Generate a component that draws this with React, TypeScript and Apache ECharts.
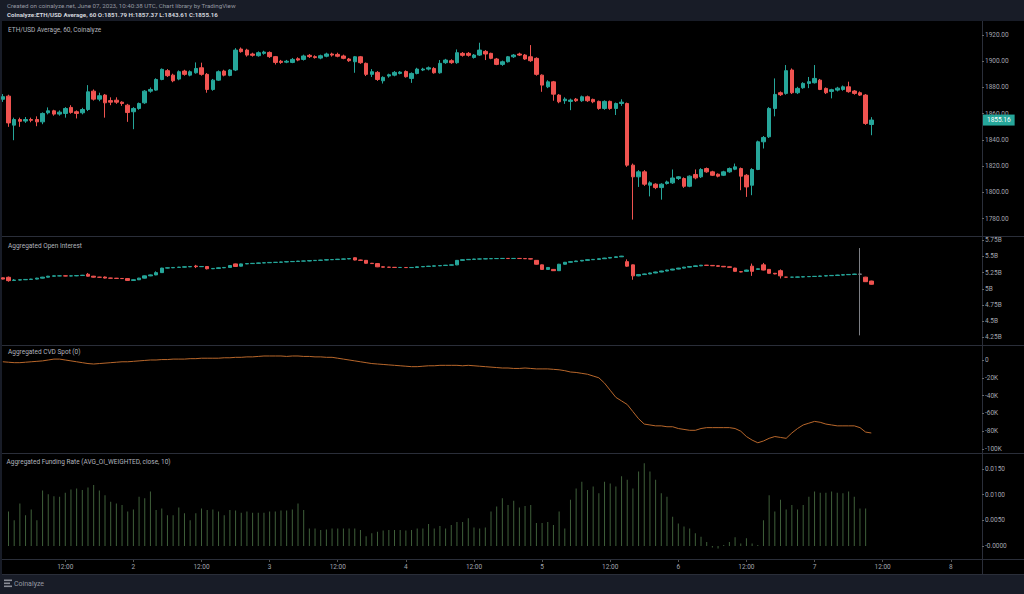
import React, { useEffect, useRef } from "react";
import * as echarts from "echarts";

// ---- time slots: hourly, first slot = June 1 01:00 UTC ----
const firstHour = 1;
const slotCount = 173;

// ---- ETH/USD hourly candles [open, close, low, high] ----
const ethCandles: number[][] = [
  [1871, 1873, 1869, 1875], [1873.4, 1853, 1850, 1874.5], [1851.3, 1855.6, 1839.8, 1857], [1855.6, 1854.2, 1850, 1857],
  [1854.4, 1855.6, 1853, 1857.5], [1855.6, 1855, 1853.5, 1857], [1855.6, 1853.8, 1850.5, 1858], [1853.8, 1860.2, 1852, 1861],
  [1860.7, 1862.2, 1859.5, 1864.8], [1862.2, 1859.7, 1858.5, 1863], [1859.7, 1861.2, 1858.5, 1862.5], [1860.2, 1864, 1857, 1865],
  [1864.8, 1861, 1860, 1866.5], [1861.5, 1860.2, 1856.4, 1862.5], [1860.7, 1863.2, 1859.5, 1864.5], [1863.2, 1876.7, 1862, 1881.8],
  [1877.2, 1871.1, 1870, 1878.5], [1871.1, 1873.7, 1869.5, 1876], [1874.2, 1868.3, 1857, 1875], [1870, 1868.8, 1866.5, 1872.5],
  [1870.3, 1868.8, 1867.5, 1872.5], [1868.8, 1867.8, 1866, 1869.5], [1866.5, 1860.9, 1853.8, 1867.5], [1861.5, 1864, 1848.2, 1865],
  [1864, 1867.8, 1863, 1868.5], [1868.3, 1877.2, 1867.5, 1878], [1877.2, 1878.5, 1876, 1880], [1878, 1886.1, 1877.5, 1887],
  [1886.1, 1893.8, 1885.5, 1894.5], [1892.8, 1889, 1888, 1894], [1889.4, 1885.1, 1884, 1890.5], [1886.4, 1892, 1885.5, 1893],
  [1892.5, 1890, 1889, 1893.5], [1889.4, 1892, 1888.5, 1893], [1891.2, 1894.5, 1890.5, 1899.1], [1895, 1890, 1889, 1898.9],
  [1890, 1878.5, 1876, 1891], [1878.5, 1885.6, 1877.5, 1886.5], [1885.6, 1892, 1885, 1893], [1892.5, 1889.4, 1888.5, 1893.5],
  [1889.2, 1893.3, 1888.5, 1894], [1893.3, 1908.5, 1892.5, 1910], [1909.3, 1907.3, 1906.5, 1910.5], [1908.5, 1904.7, 1903.5, 1909.5],
  [1905.5, 1904.5, 1903.5, 1906.5], [1904.2, 1906.5, 1903.5, 1907.5], [1906, 1907, 1905, 1908], [1906.7, 1903.5, 1902.5, 1907.5],
  [1903.5, 1899.1, 1897.5, 1904], [1900, 1899.1, 1898, 1901], [1899.3, 1900, 1898.5, 1901], [1899.1, 1901.4, 1898.5, 1902.5],
  [1901.9, 1900.9, 1900, 1903], [1901.4, 1904, 1900.5, 1905], [1904.5, 1903.5, 1902.5, 1905.5], [1903.5, 1902.8, 1902, 1904.5],
  [1902.4, 1904.2, 1901.5, 1905], [1903.8, 1905.5, 1903, 1906.5], [1905.5, 1904.7, 1903.5, 1906.5], [1905.2, 1903.8, 1903, 1906.5],
  [1904, 1902.2, 1901.5, 1905], [1901.7, 1900.4, 1899.5, 1902.5], [1899.6, 1903.4, 1891.2, 1904], [1903.4, 1898.9, 1898, 1904],
  [1898.4, 1890, 1888.7, 1899], [1890, 1892, 1888, 1894], [1891.5, 1886.1, 1885, 1892.5], [1885.1, 1887.7, 1883, 1888.5],
  [1888.7, 1889.7, 1887.5, 1890.5], [1889.4, 1891.5, 1888.5, 1892.5], [1890.7, 1891.7, 1890, 1892.5], [1892.2, 1888.2, 1887.5, 1893],
  [1886.9, 1890.7, 1883.5, 1891.5], [1890.7, 1894, 1890, 1895], [1893.3, 1894, 1892.5, 1895], [1894, 1895, 1893, 1896],
  [1894.5, 1891.2, 1890.5, 1895.5], [1891.2, 1898.4, 1890.5, 1900.9], [1898.9, 1900.9, 1898, 1901.8], [1900.4, 1898.9, 1898, 1901.5],
  [1898.9, 1906.5, 1898, 1909], [1906, 1904.5, 1903.5, 1907], [1906, 1904.5, 1903.5, 1907], [1902.9, 1904.7, 1902, 1905.5],
  [1904.7, 1908.5, 1904, 1914.1], [1907.5, 1905.5, 1900.9, 1908.5], [1906, 1902.2, 1901.5, 1906.5], [1901.7, 1897.6, 1897, 1902.5],
  [1897.6, 1899.6, 1896.5, 1900.5], [1899.6, 1903.4, 1899, 1904], [1903.4, 1904.7, 1902.5, 1905.5], [1905.5, 1904.7, 1904, 1906.5],
  [1904.7, 1901.7, 1901, 1905.5], [1903.4, 1900.4, 1899.5, 1912.3], [1902.2, 1890, 1889, 1903], [1889.4, 1881.8, 1876.7, 1890],
  [1880.5, 1884.3, 1879.5, 1885.5], [1884.3, 1874.9, 1869.9, 1885], [1874.2, 1869.1, 1868, 1875], [1869.9, 1871.1, 1867.5, 1872.5],
  [1869.4, 1870.4, 1862.7, 1871.5], [1871.1, 1869.9, 1869, 1872], [1869.9, 1872.9, 1869, 1873.8], [1872.9, 1869.9, 1869, 1873.8],
  [1870.9, 1869.1, 1868, 1871.5], [1869.4, 1864, 1863, 1870], [1864, 1869.4, 1863, 1870.2], [1869.4, 1864, 1863, 1870],
  [1864, 1867.8, 1859, 1868.5], [1867.8, 1868.8, 1866, 1871], [1867.8, 1820.8, 1819.5, 1868.5], [1820.8, 1811.9, 1779.3, 1822],
  [1811.9, 1815.7, 1804.2, 1817], [1815.7, 1806.3, 1805, 1817], [1805.5, 1807.3, 1797, 1808.5], [1806.3, 1803.7, 1802.5, 1807],
  [1803.7, 1806.3, 1794.5, 1807], [1806.8, 1808, 1806, 1809], [1807.3, 1811, 1806.5, 1817.5], [1810.6, 1811.9, 1809.5, 1812.5],
  [1810.6, 1804.7, 1803.5, 1811.5], [1804.7, 1812.4, 1804, 1813], [1813.7, 1811.1, 1810, 1817.5], [1811.9, 1817.5, 1811, 1818.5],
  [1818.2, 1815.7, 1815, 1819], [1815.7, 1813.1, 1812.5, 1816.5], [1813.9, 1812.4, 1811.5, 1814.5], [1813.1, 1815.7, 1812.5, 1816.5],
  [1815.7, 1818.2, 1815, 1819], [1817.7, 1819.5, 1817, 1822], [1818.2, 1812.4, 1801.7, 1819], [1813.1, 1804.2, 1796.6, 1814],
  [1805.5, 1817.5, 1797.9, 1818.5], [1817.5, 1838.6, 1817, 1839.5], [1838.6, 1841.9, 1833.5, 1843], [1842.4, 1864, 1841.5, 1865],
  [1864, 1874.7, 1858, 1886.9], [1876, 1874.5, 1873.5, 1877], [1875.5, 1892.8, 1874.5, 1897.1], [1893.3, 1876, 1875, 1894.5],
  [1876, 1879.3, 1875, 1880.5], [1879.8, 1883.1, 1879, 1884], [1883.1, 1884.4, 1879.5, 1888], [1883.6, 1886.9, 1883, 1897.1],
  [1885.6, 1878.5, 1878, 1886.5], [1879.3, 1876, 1875, 1880], [1877, 1878.3, 1871.7, 1879], [1878, 1879.5, 1877, 1880.5],
  [1878.5, 1880.5, 1877.5, 1881.5], [1880.5, 1876.8, 1876, 1884.4], [1877.3, 1875.5, 1874.5, 1878], [1876, 1874.2, 1873.5, 1877],
  [1874.2, 1852.6, 1851.5, 1875], [1851.79, 1855.16, 1843.61, 1857.37],
];
const lastClose = 1855.16;

// ---- Aggregated open interest candles, billions [open, close, low, high] ----
const oiCandles: number[][] = [
  [5.17, 5.15, 5.145, 5.175], [5.178, 5.126, 5.11, 5.19], [5.13, 5.135, 5.12, 5.15], [5.135, 5.14, 5.13, 5.145],
  [5.14, 5.145, 5.135, 5.15], [5.145, 5.15, 5.14, 5.155], [5.15, 5.165, 5.145, 5.17], [5.165, 5.18, 5.16, 5.185],
  [5.18, 5.195, 5.175, 5.2], [5.195, 5.2, 5.19, 5.205], [5.2, 5.2, 5.195, 5.205], [5.2, 5.198, 5.195, 5.205],
  [5.198, 5.2, 5.195, 5.205], [5.2, 5.205, 5.195, 5.21], [5.205, 5.21, 5.2, 5.215], [5.225, 5.195, 5.19, 5.245],
  [5.195, 5.18, 5.175, 5.2], [5.18, 5.178, 5.172, 5.185], [5.182, 5.166, 5.16, 5.19], [5.166, 5.164, 5.16, 5.17],
  [5.164, 5.16, 5.155, 5.168], [5.16, 5.158, 5.152, 5.165], [5.158, 5.13, 5.125, 5.162], [5.13, 5.14, 5.125, 5.145],
  [5.14, 5.165, 5.135, 5.17], [5.165, 5.2, 5.16, 5.205], [5.2, 5.215, 5.195, 5.22], [5.215, 5.25, 5.21, 5.27],
  [5.25, 5.32, 5.245, 5.325], [5.32, 5.325, 5.315, 5.33], [5.325, 5.33, 5.32, 5.335], [5.33, 5.335, 5.325, 5.34],
  [5.335, 5.34, 5.33, 5.345], [5.34, 5.345, 5.335, 5.35], [5.352, 5.342, 5.32, 5.37], [5.342, 5.345, 5.338, 5.35],
  [5.345, 5.31, 5.3, 5.35], [5.31, 5.315, 5.305, 5.32], [5.315, 5.325, 5.31, 5.33], [5.325, 5.33, 5.32, 5.335],
  [5.33, 5.36, 5.325, 5.365], [5.385, 5.345, 5.34, 5.39], [5.35, 5.385, 5.345, 5.39], [5.385, 5.39, 5.381, 5.394],
  [5.39, 5.394, 5.386, 5.398], [5.394, 5.4, 5.39, 5.404], [5.4, 5.403, 5.396, 5.407], [5.403, 5.408, 5.399, 5.412],
  [5.408, 5.41, 5.404, 5.414], [5.41, 5.415, 5.406, 5.419], [5.415, 5.42, 5.411, 5.424], [5.42, 5.423, 5.416, 5.427],
  [5.423, 5.428, 5.419, 5.432], [5.428, 5.43, 5.424, 5.434], [5.43, 5.436, 5.426, 5.44], [5.436, 5.44, 5.432, 5.444],
  [5.44, 5.444, 5.436, 5.448], [5.444, 5.45, 5.44, 5.454], [5.45, 5.452, 5.446, 5.456], [5.452, 5.458, 5.448, 5.462],
  [5.458, 5.462, 5.454, 5.466], [5.462, 5.468, 5.458, 5.472], [5.48, 5.445, 5.44, 5.485], [5.445, 5.44, 5.435, 5.45],
  [5.44, 5.395, 5.39, 5.445], [5.395, 5.39, 5.385, 5.4], [5.39, 5.34, 5.335, 5.395], [5.34, 5.335, 5.33, 5.344],
  [5.335, 5.332, 5.328, 5.34], [5.332, 5.33, 5.326, 5.336], [5.33, 5.33, 5.326, 5.334], [5.33, 5.328, 5.324, 5.334],
  [5.328, 5.33, 5.324, 5.334], [5.33, 5.34, 5.326, 5.344], [5.34, 5.345, 5.336, 5.349], [5.345, 5.35, 5.341, 5.354],
  [5.35, 5.355, 5.346, 5.359], [5.355, 5.36, 5.351, 5.364], [5.36, 5.365, 5.356, 5.369], [5.365, 5.37, 5.361, 5.374],
  [5.37, 5.44, 5.365, 5.445], [5.44, 5.45, 5.436, 5.454], [5.45, 5.455, 5.446, 5.459], [5.455, 5.46, 5.451, 5.464],
  [5.46, 5.462, 5.456, 5.466], [5.462, 5.465, 5.458, 5.469], [5.465, 5.467, 5.461, 5.471], [5.467, 5.468, 5.463, 5.472],
  [5.468, 5.47, 5.464, 5.474], [5.47, 5.468, 5.464, 5.474], [5.468, 5.47, 5.464, 5.474], [5.47, 5.468, 5.464, 5.474],
  [5.468, 5.465, 5.461, 5.472], [5.465, 5.46, 5.456, 5.469], [5.44, 5.38, 5.375, 5.445], [5.37, 5.3, 5.295, 5.375],
  [5.3, 5.33, 5.295, 5.335], [5.3, 5.28, 5.275, 5.305], [5.28, 5.38, 5.275, 5.385], [5.38, 5.41, 5.375, 5.415],
  [5.41, 5.42, 5.406, 5.424], [5.42, 5.43, 5.416, 5.434], [5.43, 5.44, 5.426, 5.444], [5.44, 5.45, 5.436, 5.454],
  [5.45, 5.455, 5.446, 5.459], [5.455, 5.465, 5.451, 5.469], [5.465, 5.475, 5.461, 5.479], [5.475, 5.485, 5.471, 5.489],
  [5.485, 5.495, 5.481, 5.499], [5.495, 5.505, 5.491, 5.509], [5.42, 5.35, 5.34, 5.455], [5.37, 5.2, 5.14, 5.375],
  [5.2, 5.22, 5.195, 5.225], [5.22, 5.23, 5.215, 5.235], [5.23, 5.245, 5.225, 5.25], [5.245, 5.26, 5.24, 5.265],
  [5.26, 5.275, 5.256, 5.279], [5.275, 5.29, 5.271, 5.294], [5.29, 5.305, 5.286, 5.309], [5.305, 5.32, 5.301, 5.324],
  [5.32, 5.335, 5.316, 5.339], [5.335, 5.345, 5.331, 5.349], [5.345, 5.355, 5.341, 5.359], [5.355, 5.365, 5.351, 5.369],
  [5.365, 5.362, 5.358, 5.369], [5.362, 5.356, 5.352, 5.366], [5.356, 5.348, 5.344, 5.36], [5.348, 5.34, 5.336, 5.352],
  [5.34, 5.332, 5.328, 5.344], [5.32, 5.27, 5.265, 5.325], [5.265, 5.26, 5.255, 5.27], [5.27, 5.29, 5.265, 5.295],
  [5.35, 5.27, 5.2, 5.39], [5.3, 5.31, 5.295, 5.315], [5.37, 5.29, 5.285, 5.4], [5.3, 5.24, 5.235, 5.305],
  [5.24, 5.23, 5.225, 5.245], [5.28, 5.2, 5.16, 5.3], [5.18, 5.18, 5.176, 5.184], [5.18, 5.18, 5.176, 5.184],
  [5.18, 5.183, 5.176, 5.187], [5.183, 5.187, 5.179, 5.191], [5.187, 5.19, 5.183, 5.194], [5.19, 5.193, 5.186, 5.197],
  [5.193, 5.198, 5.189, 5.202], [5.198, 5.203, 5.194, 5.207], [5.203, 5.207, 5.199, 5.211], [5.207, 5.212, 5.203, 5.216],
  [5.212, 5.218, 5.208, 5.222], [5.218, 5.222, 5.214, 5.226], [5.222, 5.228, 5.218, 5.232], [5.228, 5.225, 4.28, 5.63],
  [5.18, 5.11, 5.105, 5.185], [5.12, 5.07, 5.065, 5.125],
];
const oiSpikeIndex = 151;

// ---- Aggregated CVD spot, thousands ----
const cvdValues: number[] = [
  -2, -2.5, -3, -3, -2.5, -2, -1.5, -1, 0, 1, 1,
  0, -1, -2, -3, -4, -4.5, -4, -3.5, -3, -2.5, -2,
  -2, -1.5, -1, -0.5, 0, 0, 0.5, 0.5, 1,
  1, 1, 1.5, 1.5, 2, 2, 2, 2, 2.5, 2.5,
  3, 3, 3.5, 3.5, 4, 4.5, 4.5, 4.5, 4.5, 4, 4.5, 4.5, 4, 4,
  3.5, 3.5, 3, 3, 2, 1, 0, -1, -2, -3, -4,
  -4.5, -5, -5.5, -6, -6.5, -7, -7.5, -7.5, -7, -6.5, -6.5, -6, -6, -6, -6, -6.5,
  -6, -6.5, -7, -7.5, -8, -8.5, -9, -9, -9.5, -9.5, -9, -9.5, -10, -10,
  -10, -10.5, -11, -12, -13.5, -14, -15, -16, -18, -20,
  -26, -34, -42, -46, -50, -58, -66, -72, -73, -74,
  -74, -75, -75, -77, -78, -79, -79, -77, -76, -76, -76, -76, -76, -77, -80,
  -86, -90, -93, -91, -88, -86, -87, -88, -82, -77,
  -73, -71, -69, -70, -72, -73, -74, -74, -74, -74, -76, -81, -82,
];

// ---- Aggregated funding rate ----
const fundingValues: (number | null)[] = [
  null, 0.0067, 0.005, 0.0083, 0.006, 0.0071, 0.005, 0.0108, 0.0101, 0.0097, 0.0096,
  0.0104, 0.011, 0.0112, 0.0109, 0.0114, 0.0119, 0.0108, 0.0099, 0.0086, 0.0083,
  0.008, 0.0067, 0.0071, 0.0096, 0.0093, 0.0106, 0.007, 0.0073, 0.006, 0.006,
  0.0075, 0.0064, 0.005, 0.0064, 0.0073, 0.007, 0.0071, 0.0067, 0.006, 0.007,
  0.0069, 0.0065, 0.0067, 0.0065, 0.0065, 0.0065, 0.0067, 0.0067, 0.0069, 0.0069,
  0.0071, 0.0083, 0.007, 0.0034, 0.0034, 0.0031, 0.0032, 0.0034, 0.0034, 0.0034,
  0.0034, 0.0034, 0.0031, 0.0019, 0.0025, 0.0028, 0.003, 0.0031, 0.0031, 0.0031,
  0.003, 0.0031, 0.0034, 0.0034, 0.0043, 0.0034, 0.0039, 0.0034, 0.0041, 0.0047,
  0.0047, 0.0054, 0.0036, 0.0034, 0.0036, 0.0067, 0.0077, 0.0093, 0.008, 0.0088,
  0.0075, 0.0078, 0.008, 0.0045, 0.0045, 0.0047, 0.0041, 0.0067, 0.0034, 0.009,
  0.0112, 0.0125, 0.0109, 0.0116, 0.0103, 0.0125, 0.0122, 0.0116, 0.0136, 0.0129,
  0.0112, 0.0145, 0.0161, 0.0145, 0.0129, 0.0103, 0.0096, 0.0057, 0.0044, 0.0038,
  0.0034, 0.0025, 0.0018, 0.0008, -0.0003, -0.0005, 0.0002, 0.0008, 0.0017, 0.0005,
  0.0015, 0.0005, 0.0002, 0.005, 0.0099, 0.0067, 0.009, 0.0071, 0.008, 0.0071,
  0.008, 0.0096, 0.0106, 0.0104, 0.0104, 0.0106, 0.0104, 0.0103, 0.0106, 0.0096,
  0.0073, 0.0073, null,
];

const headerLine1 = "Created on coinalyze.net, June 07, 2023, 10:40:38 UTC, Chart library by TradingView";
const headerLine2 = "Coinalyze:ETH/USD Average, 60 O:1851.79 H:1857.37 L:1843.61 C:1855.16";
const paneTitles = [
  "ETH/USD Average, 60, Coinalyze",
  "Aggregated Open Interest",
  "Aggregated CVD Spot (0)",
  "Aggregated Funding Rate (AVG_OI_WEIGHTED, close, 10)",
];

const UP = "#26a69a";
const DOWN = "#ef5350";
const TXT = "#a3a6af";
const SEP = "#2a2e39";
const FONT = "Roboto, 'Liberation Sans', sans-serif";

function slotName(k: number): string {
  const h = firstHour + k;
  const day = 1 + Math.floor(h / 24);
  const hr = h % 24;
  return day + " " + (hr < 10 ? "0" : "") + hr + ":00";
}
const categories = Array.from({ length: slotCount }, (_, k) => slotName(k));
const isMajor = (_i: number, v: string) => {
  const hr = parseInt(v.split(" ")[1], 10);
  return hr === 0 || hr === 12;
};

export default function App() {
  const ref = useRef<HTMLDivElement>(null);
  useEffect(() => {
    if (!ref.current) return;
    const chart = echarts.init(ref.current, undefined, { renderer: "svg" });

    const gridTops = [22, 236, 345, 453, 559];
    const gridHeights = [214, 109, 108, 106, 1];
    const grids = gridTops.map((t, i) => ({ left: -1.2, right: 42, top: t, height: gridHeights[i] }));

    const xAxes = grids.map((_, i) => ({
      type: "category",
      gridIndex: i,
      data: categories,
      boundaryGap: true,
      show: i === 4,
      axisLine: { show: false },
      axisTick: { show: i === 4, interval: isMajor, alignWithLabel: true, length: 2, lineStyle: { color: "#555" } },
      axisLabel: {
        show: i === 4,
        interval: isMajor,
        margin: 3,
        color: TXT,
        fontSize: 6.5,
        fontFamily: FONT,
        formatter: (v: string) => {
          const [d, t] = v.split(" ");
          return t === "00:00" ? d : "12:00";
        },
      },
      splitLine: { show: false },
    }));

    const yBase = (gi: number, min: number, max: number, step: number, fmt: (v: number) => string) => ({
      type: "value",
      gridIndex: gi,
      position: "right",
      min,
      max,
      minInterval: step,
      maxInterval: step,
      scale: true,
      axisLine: { show: false },
      axisTick: { show: true, length: 2, lineStyle: { color: "#666" } },
      axisLabel: {
        show: true,
        showMinLabel: false,
        showMaxLabel: false,
        margin: 3,
        color: TXT,
        fontSize: 6.5,
        fontFamily: FONT,
        formatter: fmt,
      },
      splitLine: { show: false },
    });

    const yAxes = [
      yBase(0, 1766.8, 1929.9, 20, (v) => v.toFixed(2)),
      yBase(1, 4.131, 5.8165, 0.25, (v) => v + "B"),
      yBase(2, -104.5, 16.85, 20, (v) => (Math.abs(v) < 1e-9 ? "0" : v + "K")),
      yBase(3, -0.00253, 0.01812, 0.005, (v) => (Math.abs(v) < 1e-9 ? "-0.0000" : v.toFixed(4))),
      { type: "value", gridIndex: 4, show: false, min: 0, max: 1 },
    ];

    const candleStyle = { color: UP, color0: DOWN, borderColor: UP, borderColor0: DOWN, borderWidth: 1 };

    const oiData = oiCandles.map((c, i) =>
      i === oiSpikeIndex
        ? { value: c, itemStyle: { color: UP, color0: UP, borderColor: "#7d7f85", borderColor0: "#7d7f85" } }
        : c
    );

    const W = 1024;
    const graphic: any[] = [
      { type: "rect", shape: { x: 0, y: 0, width: W, height: 21 }, style: { fill: "#181c27" }, silent: true },
      { type: "rect", shape: { x: 0, y: 574, width: W, height: 20 }, style: { fill: "#181c27" }, silent: true },
      { type: "rect", shape: { x: 0, y: 0, width: 2, height: 594 }, style: { fill: "#181c27" }, silent: true },
      { type: "text", x: 7, y: 5.5, style: { text: headerLine1, fill: "#9598a1", fontSize: 6.2, fontFamily: FONT, verticalAlign: "middle" } },
      { type: "text", x: 7, y: 15, style: { text: headerLine2, fill: "#d1d4dc", fontSize: 6.2, fontWeight: "bold", fontFamily: FONT, verticalAlign: "middle" } },
    ];
    [236, 345, 453, 559, 574].forEach((y) =>
      graphic.push({ type: "line", shape: { x1: 2, y1: y + 0.5, x2: W, y2: y + 0.5 }, style: { stroke: SEP, lineWidth: 1 }, silent: true })
    );
    graphic.push({ type: "line", shape: { x1: 982.5, y1: 21, x2: 982.5, y2: 574 }, style: { stroke: SEP, lineWidth: 1 }, silent: true });
    const titleY = [30, 245.5, 352, 461.5];
    paneTitles.forEach((t, i) =>
      graphic.push({ type: "text", x: i === 3 ? 6.5 : 8, y: titleY[i], style: { text: t, fill: "#b2b5be", fontSize: 6.5, fontFamily: FONT, verticalAlign: "middle" } })
    );
    // Coinalyze logo
    [579.5, 582.5, 585.5].forEach((y, i) =>
      graphic.push({ type: "rect", shape: { x: 4, y, width: i === 1 ? 6 : 8, height: 1.6 }, style: { fill: "#8a8d96" }, silent: true })
    );
    graphic.push({ type: "text", x: 14, y: 583.5, style: { text: "Coinalyze", fill: "#9598a1", fontSize: 7, fontFamily: FONT, verticalAlign: "middle" } });

    chart.setOption({
      animation: false,
      backgroundColor: "#000000",
      textStyle: { fontFamily: FONT },
      grid: grids,
      xAxis: xAxes,
      yAxis: yAxes,
      graphic,
      series: [
        {
          type: "candlestick",
          name: "ETH/USD",
          xAxisIndex: 0,
          yAxisIndex: 0,
          data: ethCandles,
          barWidth: 4,
          itemStyle: candleStyle,
          markLine: {
            silent: true,
            symbol: ["none", "none"],
            animation: false,
            lineStyle: { color: "transparent", width: 0 },
            label: {
              show: true,
              position: "end",
              distance: 1,
              formatter: lastClose.toFixed(2),
              backgroundColor: UP,
              color: "#ffffff",
              fontSize: 6.5,
              fontFamily: FONT,
              padding: [2, 4],
            },
            data: [{ yAxis: lastClose }],
          },
        },
        {
          type: "candlestick",
          name: "Open Interest",
          xAxisIndex: 1,
          yAxisIndex: 1,
          data: oiData,
          barWidth: 4,
          itemStyle: candleStyle,
        },
        {
          type: "line",
          name: "CVD",
          xAxisIndex: 2,
          yAxisIndex: 2,
          data: cvdValues,
          showSymbol: false,
          symbol: "none",
          lineStyle: { color: "#b8672b", width: 1 },
        },
        {
          type: "bar",
          name: "Funding",
          xAxisIndex: 3,
          yAxisIndex: 3,
          data: fundingValues,
          barWidth: 1,
          itemStyle: { color: "#3f5f3a" },
        },
      ],
    });
    return () => chart.dispose();
  }, []);

  return (
    <div
      ref={ref}
      style={{ position: "fixed", left: 0, top: 0, width: 1024, height: 594 }}
    />
  );
}
